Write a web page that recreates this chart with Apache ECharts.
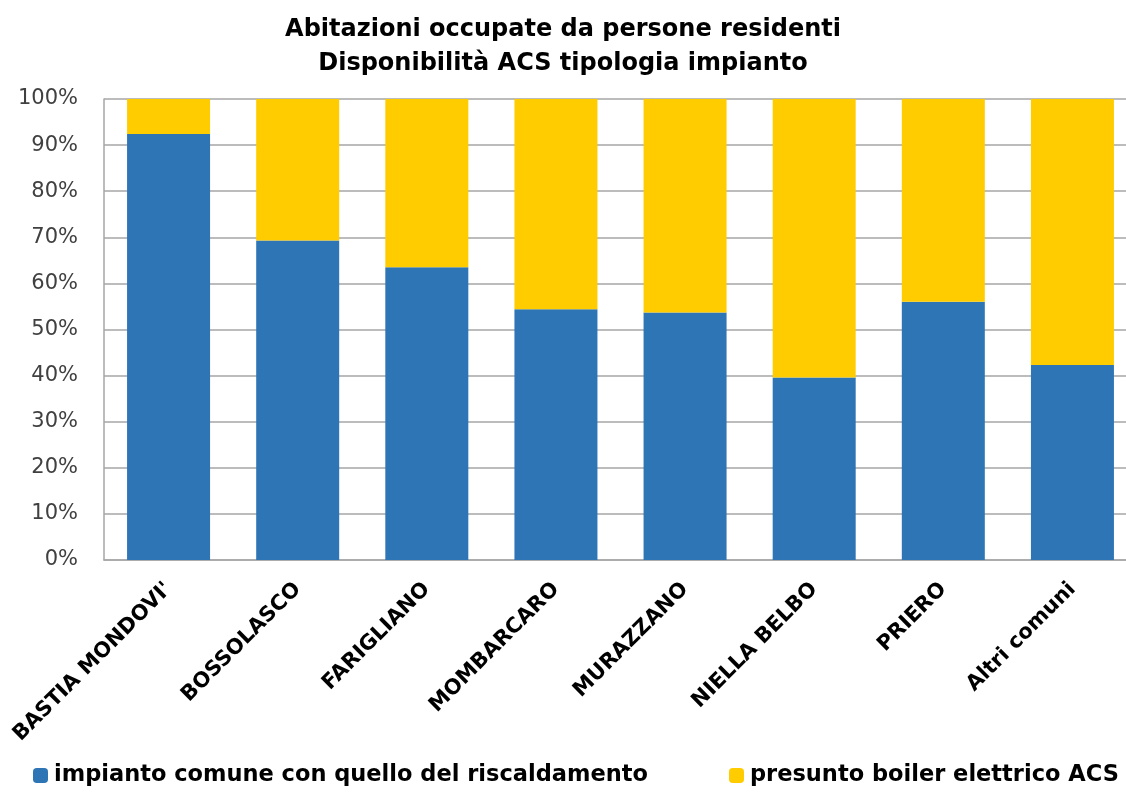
<!DOCTYPE html>
<html>
<head>
<meta charset="utf-8">
<script src="https://cdn.jsdelivr.net/npm/echarts@6/dist/echarts.min.js"></script>
<style>
  html, body { margin: 0; padding: 0; background: #fff; }
  #chart { width: 1126px; height: 792px; }
</style>
</head>
<body>
<div id="chart"></div>
<script>
// categorie (comuni)
var comuni = ['BASTIA MONDOVI\'', 'BOSSOLASCO', 'FARIGLIANO', 'MOMBARCARO', 'MURAZZANO', 'NIELLA BELBO', 'PRIERO', 'Altri comuni']
// quote percentuali
var impiantoComune = [92.4, 69.3, 63.5, 54.4, 53.7, 39.6, 56.0, 42.3]
var boilerElettrico = [7.6, 30.7, 36.5, 45.6, 46.3, 60.4, 44.0, 57.7]
var nomiSerie = ['impianto comune con quello del riscaldamento', 'presunto boiler elettrico ACS']

var font = 'DejaVu Sans'
var legendText = { fontFamily: font, fontSize: 22.5, fontWeight: 'bold', color: '#000', padding: [0, 0, 0, 1] }
var myChart = echarts.init(document.getElementById('chart'))
myChart.setOption({
  animation: false,
  title: {
    text: 'Abitazioni occupate da persone residenti\nDisponibilità ACS tipologia impianto',
    left: 'center',
    top: 8,
    textStyle: {
      fontFamily: font,
      fontSize: 24,
      fontWeight: 'bold',
      color: '#000',
      lineHeight: 34
    }
  },
  legend: [{
    data: [nomiSerie[0]],
    left: 28,
    bottom: 0,
    itemWidth: 15,
    itemHeight: 15,
    textStyle: legendText
  }, {
    data: [nomiSerie[1]],
    left: 724,
    bottom: 0,
    itemWidth: 15,
    itemHeight: 15,
    textStyle: legendText
  }],
  grid: {
    left: 104,
    top: 99,
    width: 1033,
    bottom: 232,
    outerBoundsMode: 'none'
  },
  xAxis: {
    type: 'category',
    data: comuni,
    axisLine: { lineStyle: { color: '#a6a6a6', width: 1.5 } },
    axisTick: { show: false },
    axisLabel: {
      interval: 0,
      rotate: 45,
      margin: 26,
      fontFamily: font,
      fontSize: 21,
      fontWeight: 'bold',
      color: '#000'
    }
  },
  yAxis: {
    type: 'value',
    min: 0,
    max: 100,
    interval: 10,
    axisLine: { show: true, lineStyle: { color: '#a6a6a6', width: 1.5 } },
    axisTick: { show: false },
    splitLine: { lineStyle: { color: '#a6a6a6', width: 1.5 } },
    axisLabel: {
      formatter: '{value}%',
      margin: 26,
      fontFamily: font,
      fontSize: 21,
      color: '#404040'
    }
  },
  series: [{
    name: nomiSerie[0],
    type: 'bar',
    stack: 'tot',
    data: impiantoComune,
    barWidth: 83,
    itemStyle: { color: '#2e75b6' }
  }, {
    name: nomiSerie[1],
    type: 'bar',
    stack: 'tot',
    data: boilerElettrico,
    barWidth: 83,
    itemStyle: { color: '#ffcc00' }
  }]
})
</script>
</body>
</html>
